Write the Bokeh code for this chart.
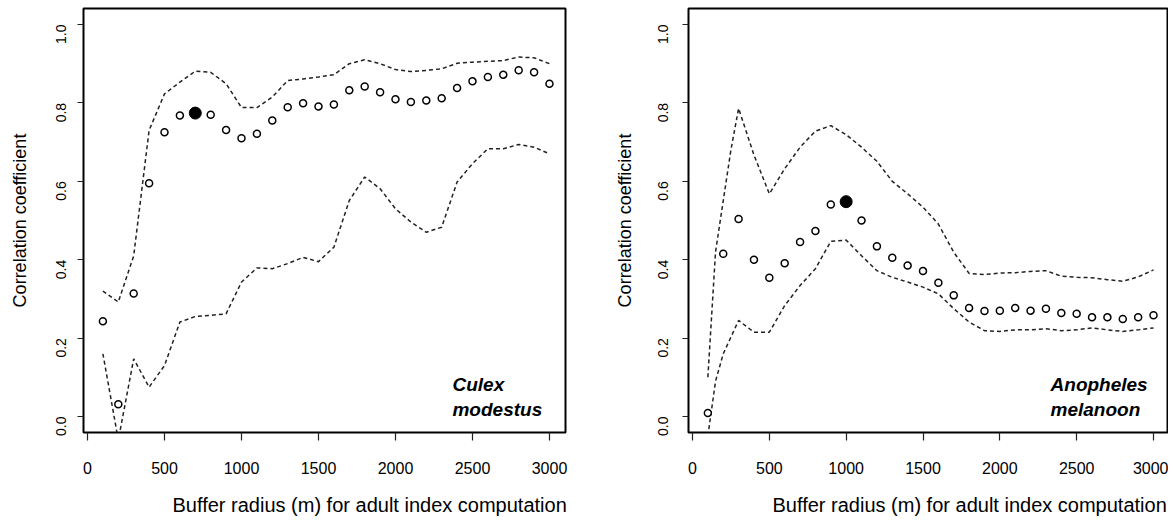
import math
from bokeh.plotting import figure
from bokeh.layouts import row
from bokeh.models import FixedTicker, PrintfTickFormatter, Range1d, Label, Title
from bokeh.embed import file_html
from bokeh.resources import INLINE

# ---------------- data ----------------
radius = [100, 200, 300, 400, 500, 600, 700, 800, 900, 1000,
          1100, 1200, 1300, 1400, 1500, 1600, 1700, 1800, 1900, 2000,
          2100, 2200, 2300, 2400, 2500, 2600, 2700, 2800, 2900, 3000]

culex_r = [0.243, 0.031, 0.314, 0.595, 0.725, 0.768, 0.774, 0.770, 0.731, 0.710,
           0.721, 0.755, 0.789, 0.799, 0.791, 0.796, 0.832, 0.842, 0.827, 0.809,
           0.802, 0.806, 0.812, 0.838, 0.855, 0.866, 0.872, 0.883, 0.878, 0.849]
culex_upper = [0.320, 0.292, 0.410, 0.730, 0.823, 0.853, 0.881, 0.878, 0.849, 0.788,
               0.788, 0.815, 0.857, 0.861, 0.866, 0.872, 0.900, 0.910, 0.900, 0.885,
               0.880, 0.883, 0.887, 0.901, 0.904, 0.906, 0.908, 0.917, 0.915, 0.900]
culex_lower = [0.160, -0.060, 0.147, 0.075, 0.130, 0.241, 0.255, 0.258, 0.262, 0.343,
               0.379, 0.377, 0.390, 0.406, 0.395, 0.432, 0.551, 0.611, 0.581, 0.530,
               0.496, 0.470, 0.483, 0.598, 0.645, 0.683, 0.683, 0.694, 0.687, 0.670]
culex_best_radius = 700

anoph_r = [0.009, 0.415, 0.504, 0.400, 0.354, 0.391, 0.445, 0.473, 0.541, 0.548,
           0.500, 0.434, 0.405, 0.385, 0.371, 0.341, 0.309, 0.277, 0.269, 0.270,
           0.277, 0.270, 0.275, 0.264, 0.262, 0.253, 0.253, 0.249, 0.253, 0.258]
anoph_upper_x = [100, 150, 200, 250, 300, 400, 500, 600, 700, 800, 900, 1000,
                 1100, 1200, 1300, 1400, 1500, 1600, 1700, 1800, 1900, 2000,
                 2100, 2200, 2300, 2400, 2500, 2600, 2700, 2800, 2900, 3000]
anoph_upper = [0.100, 0.420, 0.550, 0.680, 0.786, 0.667, 0.568, 0.632, 0.687, 0.728, 0.742, 0.719,
               0.687, 0.651, 0.600, 0.568, 0.534, 0.491, 0.419, 0.365, 0.362, 0.366,
               0.367, 0.370, 0.372, 0.358, 0.355, 0.354, 0.349, 0.345, 0.356, 0.374]
anoph_lower_x = [100, 150, 200, 300, 400, 500, 600, 700, 800, 900, 1000,
                 1100, 1200, 1300, 1400, 1500, 1600, 1700, 1800, 1900, 2000,
                 2100, 2200, 2300, 2400, 2500, 2600, 2700, 2800, 2900, 3000]
anoph_lower = [-0.050, 0.090, 0.160, 0.245, 0.215, 0.215, 0.283, 0.334, 0.377, 0.447, 0.450,
               0.410, 0.372, 0.355, 0.343, 0.330, 0.313, 0.275, 0.241, 0.219, 0.217,
               0.221, 0.221, 0.224, 0.219, 0.221, 0.226, 0.221, 0.217, 0.221, 0.226]
anoph_best_radius = 1000

x_ticks = [0, 500, 1000, 1500, 2000, 2500, 3000]
y_ticks = [0.0, 0.2, 0.4, 0.6, 0.8, 1.0]
x_title = "Buffer radius (m) for adult index computation"
y_title = "Correlation coefficient"

FONT = "Liberation Sans"


def make_panel(width, height, bl, br, bt, bb, x_end, r, ux, up, lx, lo, best,
               name1, name2, name_x, ylab_standoff, ytitle_standoff, xtitle_offset):
    p = figure(width=width, height=height,
               x_range=Range1d(-26, x_end), y_range=Range1d(-0.0408, 1.0408),
               output_backend="svg", toolbar_location=None,
               min_border_left=bl, min_border_right=br,
               min_border_top=bt, min_border_bottom=bb)
    p.grid.visible = False
    p.outline_line_color = "black"
    p.outline_line_width = 2
    p.background_fill_color = "white"
    p.border_fill_color = "white"

    # axes
    p.xaxis.ticker = FixedTicker(ticks=x_ticks)
    p.xaxis.formatter = PrintfTickFormatter(format="%d")
    p.yaxis.ticker = FixedTicker(ticks=y_ticks)
    p.yaxis.formatter = PrintfTickFormatter(format="%.1f")
    for ax in (p.xaxis, p.yaxis):
        ax.axis_line_color = None
        ax.major_tick_in = 0
        ax.minor_tick_line_color = None
        ax.major_tick_line_color = "#222222"
        ax.major_tick_line_width = 1.2
        ax.major_label_text_font = FONT
        ax.major_label_text_color = "black"
        ax.axis_label_text_font = FONT
        ax.axis_label_text_font_style = "normal"
        ax.axis_label_text_color = "black"
    p.xaxis.major_tick_out = 8
    p.xaxis.major_label_text_font_size = "16px"
    p.xaxis.major_label_standoff = 21

    p.yaxis.major_tick_out = 6
    p.yaxis.major_label_text_font_size = "14px"
    p.yaxis.major_label_orientation = math.pi / 2
    p.yaxis.major_label_standoff = ylab_standoff
    p.yaxis.axis_label = y_title
    p.yaxis.axis_label_text_font_size = "18px"
    p.yaxis.axis_label_standoff = ytitle_standoff

    # x-axis title (as in the original: slightly right of the frame centre)
    p.add_layout(Title(text=x_title, align="left", offset=xtitle_offset,
                       text_font=FONT, text_font_size="20px", text_font_style="normal",
                       text_color="black", standoff=0, padding=(0, 0, 15, 0)), "below")

    # confidence bounds
    p.line(ux, up, line_color="#222222", line_width=1.5, line_dash="4 3")
    p.line(lx, lo, line_color="#222222", line_width=1.5, line_dash="4 3")
    # correlation points
    p.scatter(radius, r, size=7, fill_color="white", line_color="black", line_width=1.5)
    bi = radius.index(best)
    p.scatter([radius[bi]], [r[bi]], size=12, fill_color="black", line_color="black")

    for txt, yy in ((name1, 0.081), (name2, 0.017)):
        p.add_layout(Label(x=name_x, y=yy, text=txt, text_font=FONT,
                           text_font_style="bold italic", text_font_size="19px",
                           text_color="black", text_baseline="alphabetic", text_align="left"))
    return p


p1 = make_panel(610, 520, 83, 45, 8, 88, 3104, culex_r, radius, culex_upper, radius, culex_lower,
                culex_best_radius, "Culex", "modestus", 2370, 16, 19, 89)
p2 = make_panel(558, 520, 78, 1, 8, 88, 3091, anoph_r, anoph_upper_x, anoph_upper, anoph_lower_x, anoph_lower,
                anoph_best_radius, "Anopheles", "melanoon", 2330, 19, 16, 84)

layout = row(p1, p2)
open("out.html", "w").write(file_html(layout, INLINE))
